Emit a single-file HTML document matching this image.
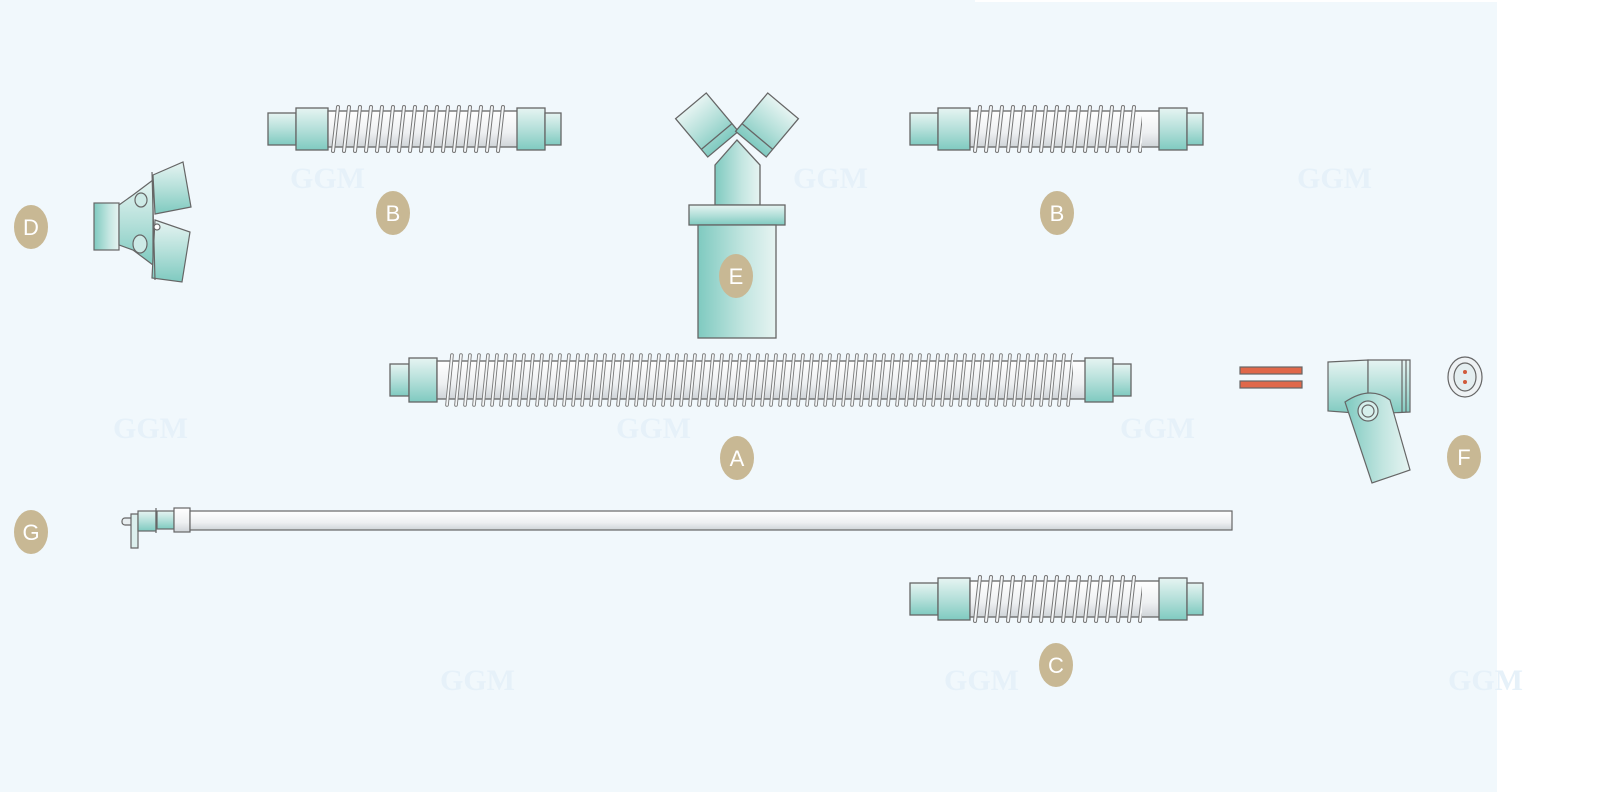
<!DOCTYPE html>
<html><head><meta charset="utf-8"><style>
html,body{margin:0;padding:0;background:#fff}
svg{display:block}
</style></head><body>
<svg width="1600" height="792" viewBox="0 0 1600 792" xmlns="http://www.w3.org/2000/svg" font-family="Liberation Sans, sans-serif">
<defs>
<linearGradient id="teal" x1="0" y1="0" x2="0" y2="1">
<stop offset="0" stop-color="#e6f4f2"/><stop offset="0.5" stop-color="#b5e0da"/><stop offset="1" stop-color="#7fcac0"/></linearGradient>
<linearGradient id="tealx" x1="0" y1="0" x2="1" y2="0">
<stop offset="0" stop-color="#7fcac0"/><stop offset="0.6" stop-color="#c4e6e1"/><stop offset="1" stop-color="#e6f4f2"/></linearGradient>
<linearGradient id="wh" x1="0" y1="0" x2="0" y2="1">
<stop offset="0" stop-color="#ffffff"/><stop offset="0.6" stop-color="#eef0f2"/><stop offset="1" stop-color="#cfd4d8"/></linearGradient>
<pattern id="coilB" x="330" y="104" width="11" height="50" patternUnits="userSpaceOnUse">
<path d="M8 3 L3 47" stroke="#777" stroke-width="4" stroke-linecap="round"/>
<path d="M8 3 L3 47" stroke="#f4f6f7" stroke-width="2" stroke-linecap="round"/>
</pattern>
<pattern id="coilB2" x="972" y="104" width="11" height="50" patternUnits="userSpaceOnUse">
<path d="M8 3 L3 47" stroke="#777" stroke-width="4" stroke-linecap="round"/>
<path d="M8 3 L3 47" stroke="#f4f6f7" stroke-width="2" stroke-linecap="round"/>
</pattern>
<pattern id="coilC" x="972" y="574" width="11" height="50" patternUnits="userSpaceOnUse">
<path d="M8 3 L3 47" stroke="#777" stroke-width="4" stroke-linecap="round"/>
<path d="M8 3 L3 47" stroke="#f4f6f7" stroke-width="2" stroke-linecap="round"/>
</pattern>
<pattern id="coilA" x="445" y="352" width="9" height="56" patternUnits="userSpaceOnUse">
<path d="M7 3 L2 53" stroke="#777" stroke-width="3.6" stroke-linecap="round"/>
<path d="M7 3 L2 53" stroke="#f4f6f7" stroke-width="1.8" stroke-linecap="round"/>
</pattern>
</defs>
<rect width="1600" height="792" fill="#fff"/>
<rect x="0" y="0" width="1497" height="792" fill="#f1f8fc"/>
<rect x="975" y="0" width="522" height="2" fill="#fff"/>
<g fill="#e6f1f9" font-family="Liberation Serif, serif" font-size="30" font-weight="bold">
<text x="290" y="188">GGM</text><text x="793" y="188">GGM</text><text x="1297" y="188">GGM</text>
<text x="113" y="438">GGM</text><text x="616" y="438">GGM</text><text x="1120" y="438">GGM</text>
<text x="440" y="690">GGM</text><text x="944" y="690">GGM</text><text x="1448" y="690">GGM</text>
</g>

<g stroke="#666" stroke-width="1.3">
<rect x="268" y="113" width="28" height="32" fill="url(#teal)"/>
<rect x="296" y="108" width="32" height="42" fill="url(#teal)"/>
<rect x="328" y="111" width="190" height="36" fill="url(#wh)"/>
<rect x="330" y="104" width="176" height="50" fill="url(#coilB)" stroke="none"/>
<rect x="517" y="108" width="28" height="42" fill="url(#teal)"/>
<rect x="545" y="113" width="16" height="32" fill="url(#teal)"/>
</g>
<g stroke="#666" stroke-width="1.3">
<rect x="910" y="113" width="28" height="32" fill="url(#teal)"/>
<rect x="938" y="108" width="32" height="42" fill="url(#teal)"/>
<rect x="970" y="111" width="190" height="36" fill="url(#wh)"/>
<rect x="972" y="104" width="170" height="50" fill="url(#coilB2)" stroke="none"/>
<rect x="1159" y="108" width="28" height="42" fill="url(#teal)"/>
<rect x="1187" y="113" width="16" height="32" fill="url(#teal)"/>
</g>
<g stroke="#666" stroke-width="1.3">
<rect x="910" y="583" width="28" height="32" fill="url(#teal)"/>
<rect x="938" y="578" width="32" height="42" fill="url(#teal)"/>
<rect x="970" y="581" width="190" height="36" fill="url(#wh)"/>
<rect x="972" y="574" width="170" height="50" fill="url(#coilC)" stroke="none"/>
<rect x="1159" y="578" width="28" height="42" fill="url(#teal)"/>
<rect x="1187" y="583" width="16" height="32" fill="url(#teal)"/>
</g>
<g stroke="#666" stroke-width="1.3">
<rect x="390" y="364" width="19" height="32" fill="url(#teal)"/>
<rect x="409" y="358" width="28" height="44" fill="url(#teal)"/>
<rect x="437" y="361" width="650" height="38" fill="url(#wh)"/>
<rect x="445" y="352" width="628" height="56" fill="url(#coilA)" stroke="none"/>
<rect x="1085" y="358" width="28" height="44" fill="url(#teal)"/>
<rect x="1113" y="364" width="18" height="32" fill="url(#teal)"/>
</g>

<g stroke="#666" stroke-width="1.3">
<g transform="rotate(-40 707 125)"><rect x="687" y="100" width="40" height="50" fill="url(#teal)"/><line x1="687" y1="140" x2="727" y2="140"/></g>
<g transform="rotate(40 767 125)"><rect x="747" y="100" width="40" height="50" fill="url(#teal)"/><line x1="747" y1="140" x2="787" y2="140"/></g>
<path d="M715 165 L737 140 L760 165 L760 205 L715 205 Z" fill="url(#tealx)"/>
<rect x="689" y="205" width="96" height="20" fill="url(#teal)"/>
<rect x="698" y="225" width="78" height="113" fill="url(#tealx)"/>
</g>

<g stroke="#666" stroke-width="1.2">
<rect x="94" y="203" width="25" height="47" fill="url(#tealx)"/>
<path d="M119 205 L133 195 L153 180 L153 265 L133 250 L119 245 Z" fill="url(#teal)"/>
<path d="M153 175 L183 162 L191 207 L155 214 Z" fill="url(#teal)"/>
<path d="M155 220 L190 232 L182 282 L152 278 Z" fill="url(#teal)"/>
<line x1="152" y1="172" x2="155" y2="280"/>
<ellipse cx="141" cy="200" rx="6" ry="7" fill="#cdeae6"/>
<ellipse cx="140" cy="244" rx="7" ry="9" fill="#cdeae6"/>
<circle cx="157" cy="227" r="3" fill="#fff"/>
</g>

<g stroke="#666" stroke-width="1.2">
<rect x="122" y="518" width="12" height="7" rx="3" fill="#e8eef0"/>
<path d="M131 514 L138 514 L138 548 L131 548 Z" fill="#dcefed"/>
<rect x="138" y="511" width="18" height="20" fill="url(#teal)"/>
<line x1="156" y1="508" x2="156" y2="533"/>
<rect x="157" y="511" width="17" height="18" fill="url(#teal)"/>
<rect x="174" y="508" width="16" height="24" fill="url(#wh)"/>
<rect x="190" y="511" width="1042" height="19" fill="url(#wh)"/>
</g>

<g stroke="#666" stroke-width="1.2">
<rect x="1240" y="367" width="62" height="7" fill="#e0684a"/>
<rect x="1240" y="381" width="62" height="7" fill="#e0684a"/>
<path d="M1328 362 L1368 360 L1368 414 L1328 411 Z" fill="url(#teal)"/>
<path d="M1368 360 L1410 360 L1410 412 L1368 414 Z" fill="url(#teal)"/>
<line x1="1402" y1="360" x2="1402" y2="412"/><line x1="1406" y1="360" x2="1406" y2="412"/>
<path d="M1345 402 Q1370 385 1390 400 L1410 470 L1372 483 Z" fill="url(#tealx)"/>
<circle cx="1368" cy="411" r="10" fill="#d6efec"/><circle cx="1368" cy="411" r="6" fill="none"/>
<ellipse cx="1465" cy="377" rx="17" ry="20" fill="#eef2f4"/>
<ellipse cx="1465" cy="377" rx="11" ry="14" fill="#e4eef0"/>
</g>
<circle cx="1465" cy="372" r="2" fill="#d05a3a"/><circle cx="1465" cy="382" r="2" fill="#d05a3a"/>

<g fill="#c8b894">
<ellipse cx="31" cy="227" rx="17" ry="22"/>
<ellipse cx="393" cy="213" rx="17" ry="22"/>
<ellipse cx="1057" cy="213" rx="17" ry="22"/>
<ellipse cx="736" cy="276" rx="17" ry="22"/>
<ellipse cx="737" cy="458" rx="17" ry="22"/>
<ellipse cx="1464" cy="457" rx="17" ry="22"/>
<ellipse cx="31" cy="532" rx="17" ry="22"/>
<ellipse cx="1056" cy="665" rx="17" ry="22"/>
</g>
<g fill="#fff" font-size="22" text-anchor="middle">
<text x="31" y="235">D</text><text x="393" y="221">B</text><text x="1057" y="221">B</text>
<text x="736" y="284">E</text><text x="737" y="466">A</text><text x="1464" y="465">F</text>
<text x="31" y="540">G</text><text x="1056" y="673">C</text>
</g>
</svg>
</body></html>
